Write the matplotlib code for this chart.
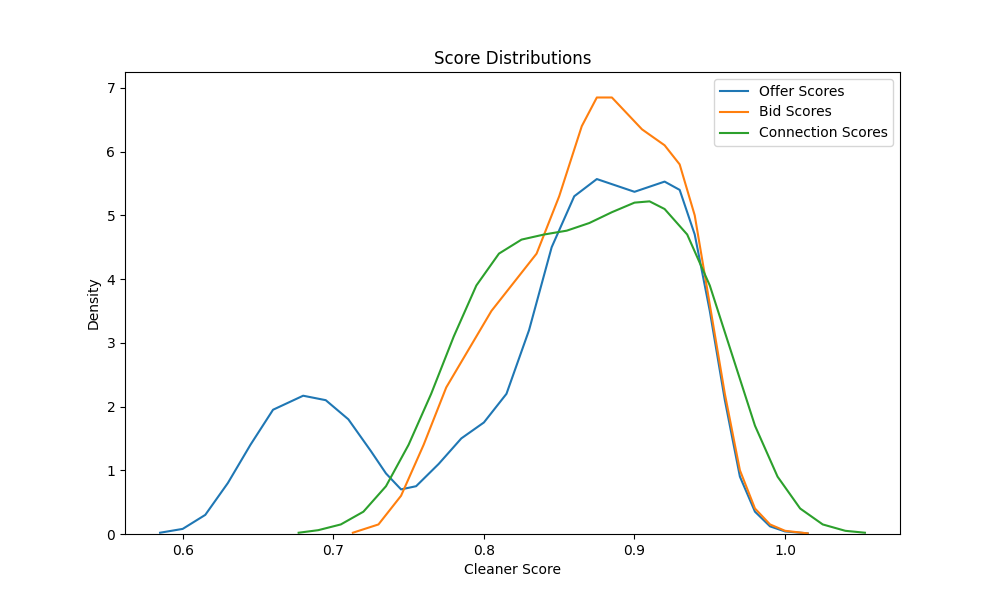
import matplotlib
matplotlib.use('Agg')
import matplotlib.pyplot as plt

# Curve points (KDE densities)
offer_x = [0.585, 0.60, 0.615, 0.63, 0.645, 0.66, 0.68, 0.695, 0.71, 0.725, 0.735, 0.745,
           0.755, 0.77, 0.785, 0.80, 0.815, 0.83, 0.845, 0.86, 0.875, 0.89, 0.90, 0.91,
           0.92, 0.93, 0.94, 0.95, 0.96, 0.97, 0.98, 0.99, 1.0, 1.015]
offer_y = [0.02, 0.08, 0.3, 0.8, 1.4, 1.95, 2.17, 2.1, 1.8, 1.3, 0.95, 0.7,
           0.75, 1.1, 1.5, 1.75, 2.2, 3.2, 4.5, 5.3, 5.57, 5.45, 5.37, 5.45,
           5.53, 5.4, 4.7, 3.5, 2.1, 0.9, 0.35, 0.12, 0.04, 0.01]

bid_x = [0.713, 0.73, 0.745, 0.76, 0.775, 0.79, 0.805, 0.82, 0.835, 0.85, 0.865, 0.875,
         0.885, 0.895, 0.905, 0.92, 0.93, 0.94, 0.95, 0.96, 0.97, 0.98, 0.99, 1.0, 1.015]
bid_y = [0.02, 0.15, 0.6, 1.4, 2.3, 2.9, 3.5, 3.95, 4.4, 5.3, 6.4, 6.85,
         6.85, 6.6, 6.35, 6.1, 5.8, 5.0, 3.6, 2.2, 1.0, 0.4, 0.15, 0.05, 0.01]

conn_x = [0.677, 0.69, 0.705, 0.72, 0.735, 0.75, 0.765, 0.78, 0.795, 0.81, 0.825, 0.84,
          0.855, 0.87, 0.885, 0.90, 0.91, 0.92, 0.935, 0.95, 0.965, 0.98, 0.995, 1.01,
          1.025, 1.04, 1.053]
conn_y = [0.02, 0.06, 0.15, 0.35, 0.75, 1.4, 2.2, 3.1, 3.9, 4.4, 4.62, 4.7,
          4.76, 4.88, 5.05, 5.2, 5.22, 5.1, 4.7, 3.9, 2.8, 1.7, 0.9, 0.4,
          0.15, 0.05, 0.02]

fig, ax = plt.subplots(figsize=(10, 6), dpi=100)
ax.plot(offer_x, offer_y, label='Offer Scores', color='#1f77b4', linewidth=1.5)
ax.plot(bid_x, bid_y, label='Bid Scores', color='#ff7f0e', linewidth=1.5)
ax.plot(conn_x, conn_y, label='Connection Scores', color='#2ca02c', linewidth=1.5)

ax.set_xlim(0.5617, 1.0763)
ax.set_ylim(0, 7.25)
ax.set_title('Score Distributions')
ax.set_xlabel('Cleaner Score')
ax.set_ylabel('Density')
ax.legend(loc='upper right')

plt.savefig('out.png', dpi=100)
plt.close()
